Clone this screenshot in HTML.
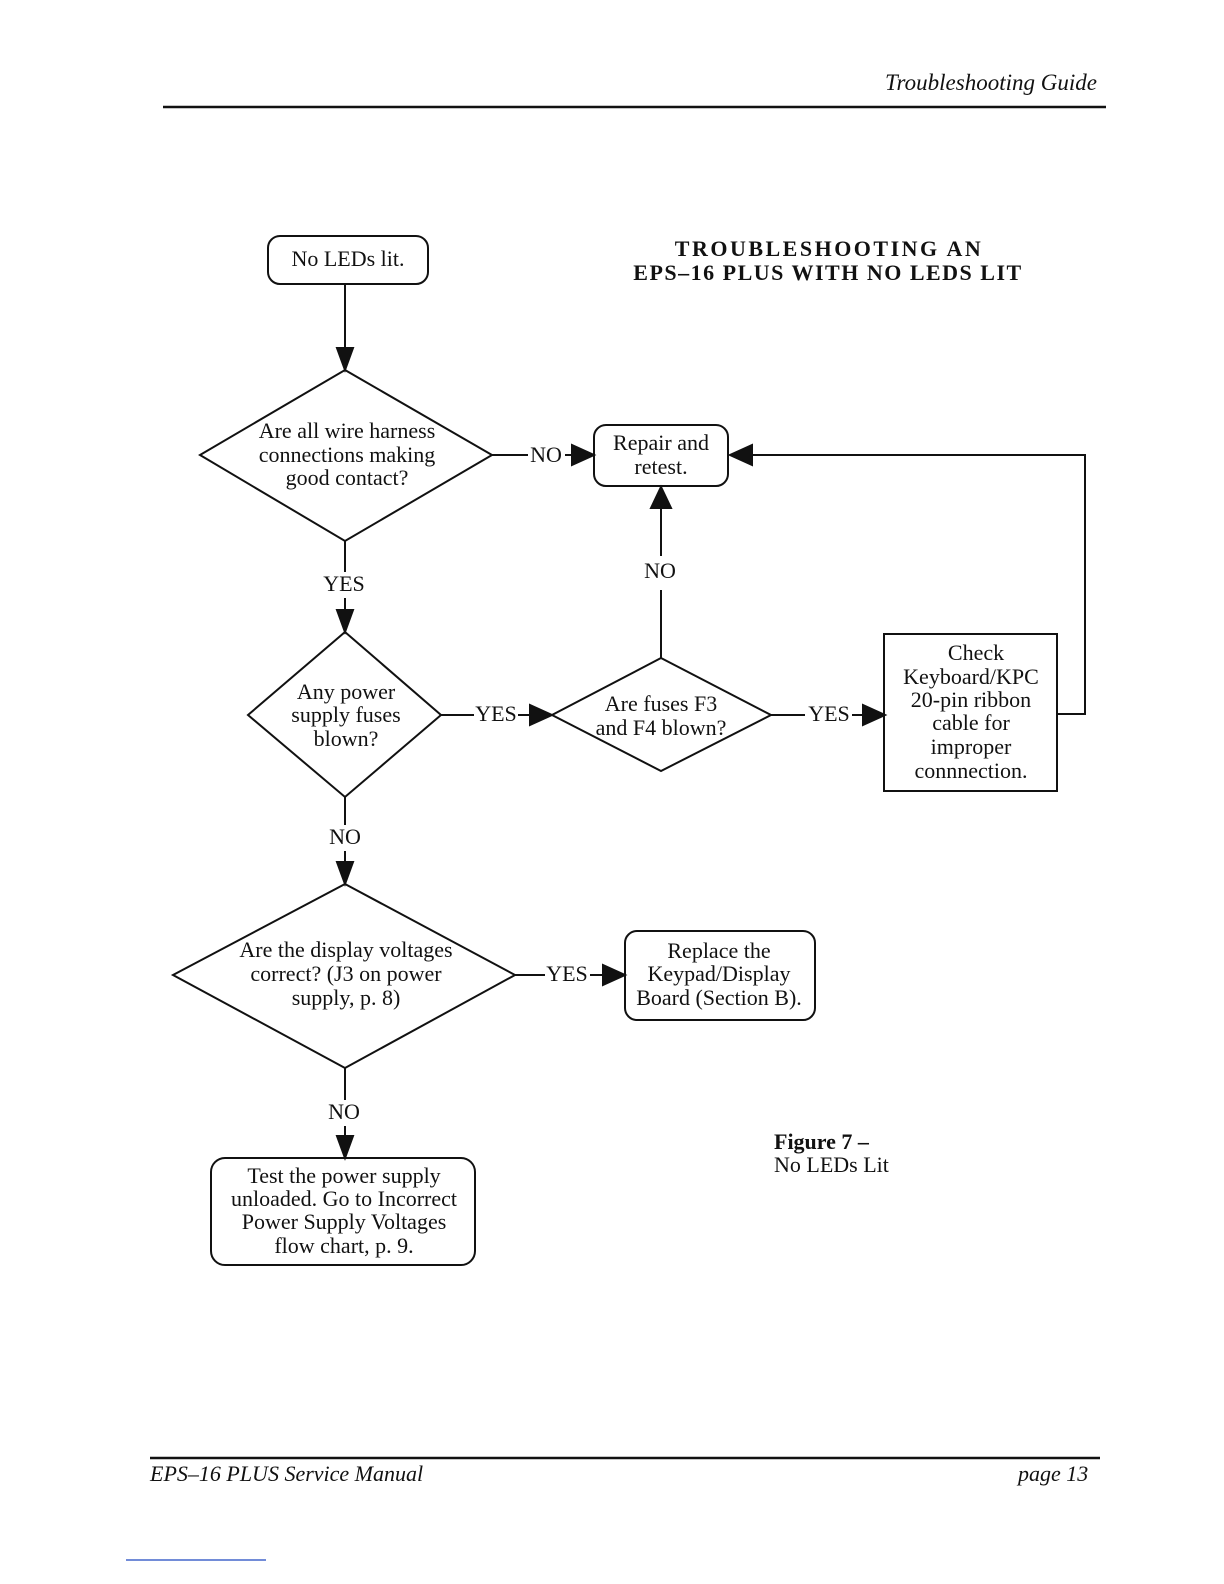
<!DOCTYPE html>
<html><head><meta charset="utf-8"><style>
html,body{margin:0;padding:0;background:#fff;width:1224px;height:1584px;overflow:hidden}
svg{display:block;position:absolute;left:0;top:0}
text{font-family:"Liberation Serif",serif;fill:#111}
</style></head><body>
<svg width="1224" height="1584" viewBox="0 0 1224 1584" xmlns="http://www.w3.org/2000/svg">
<g stroke="#111" stroke-width="2" fill="none">
<line x1="163" y1="107" x2="1106" y2="107" stroke-width="2.5"/>
<line x1="150" y1="1458" x2="1100" y2="1458" stroke-width="2.5"/>
<rect x="268" y="236" width="160" height="48" rx="12"/>
<path d="M345 284 V350"/><path d="M337 348 L345 370 L353 348 Z" fill="#111"/>
<polygon points="345,370 492,455 345,541 200,455"/>
<path d="M492 455 H528"/>
<path d="M565 455 H578"/><path d="M572 445 L594 455 L572 465 Z" fill="#111"/>
<rect x="594" y="425" width="134" height="61" rx="12"/>
<path d="M1057 714 H1085 V455 H750"/><path d="M752 445 L730 455 L752 465 Z" fill="#111"/>
<path d="M345 541 V572"/><path d="M345 598 V612"/><path d="M337 610 L345 632 L353 610 Z" fill="#111"/>
<polygon points="345,632 441,715 345,797 248,715"/>
<path d="M441 715 H474"/><path d="M518 715 H530"/><path d="M530 705 L552 715 L530 725 Z" fill="#111"/>
<polygon points="661,658 771,715 661,771 552,715"/>
<path d="M661 658 V590"/><path d="M661 556 V508"/><path d="M651 508 L661 487 L671 508 Z" fill="#111"/>
<path d="M771 715 H805"/><path d="M852 715 H864"/><path d="M863 705 L885 715 L863 725 Z" fill="#111"/>
<rect x="884" y="634" width="173" height="157"/>
<path d="M345 797 V825"/><path d="M345 851 V864"/><path d="M337 862 L345 884 L353 862 Z" fill="#111"/>
<polygon points="345,884 515,975 345,1068 173,975"/>
<path d="M515 975 H545"/><path d="M590 975 H603"/><path d="M603 965 L625 975 L603 985 Z" fill="#111"/>
<rect x="625" y="931" width="190" height="89" rx="12"/>
<path d="M345 1068 V1100"/><path d="M345 1126 V1138"/><path d="M337 1136 L345 1158 L353 1136 Z" fill="#111"/>
<rect x="211" y="1158" width="264" height="107" rx="14"/>
</g>
<line x1="126" y1="1560" x2="266" y2="1560" stroke="#4466cc" stroke-width="1.5"/>
<g font-size="22" text-anchor="middle">
<text x="991" y="90" font-style="italic" font-size="23">Troubleshooting Guide</text>
<text x="348" y="266">No LEDs lit.</text>
<text x="347" y="438">Are all wire harness</text>
<text x="347" y="462">connections making</text>
<text x="347" y="485">good contact?</text>
<text x="546" y="462">NO</text>
<text x="661" y="450">Repair and</text>
<text x="661" y="474">retest.</text>
<text x="344" y="591">YES</text>
<text x="660" y="578">NO</text>
<text x="346" y="699">Any power</text>
<text x="346" y="722">supply fuses</text>
<text x="346" y="746">blown?</text>
<text x="496" y="721">YES</text>
<text x="661" y="711">Are fuses F3</text>
<text x="661" y="735">and F4 blown?</text>
<text x="829" y="721">YES</text>
<text x="976" y="660">Check</text>
<text x="971" y="684">Keyboard/KPC</text>
<text x="971" y="707">20-pin ribbon</text>
<text x="971" y="730">cable for</text>
<text x="971" y="754">improper</text>
<text x="971" y="778">connnection.</text>
<text x="345" y="844">NO</text>
<text x="346" y="957">Are the display voltages</text>
<text x="346" y="981">correct? (J3 on power</text>
<text x="346" y="1005">supply, p. 8)</text>
<text x="567" y="981">YES</text>
<text x="719" y="958">Replace the</text>
<text x="719" y="981">Keypad/Display</text>
<text x="719" y="1005">Board (Section B).</text>
<text x="344" y="1119">NO</text>
<text x="344" y="1183">Test the power supply</text>
<text x="344" y="1206">unloaded.  Go to Incorrect</text>
<text x="344" y="1229">Power Supply Voltages</text>
<text x="344" y="1253">flow chart, p. 9.</text>
<text x="829" y="256" font-weight="bold" font-size="22" letter-spacing="2.5">TROUBLESHOOTING  AN</text>
<text x="828" y="280" font-weight="bold" font-size="22" letter-spacing="1.5">EPS–16 PLUS WITH NO LEDS LIT</text>
</g>
<text x="774" y="1149" font-size="22" font-weight="bold">Figure 7 –</text>
<text x="774" y="1172" font-size="22">No LEDs Lit</text>
<text x="150" y="1481" font-size="22" font-style="italic">EPS–16 PLUS Service Manual</text>
<text x="1018" y="1481" font-size="22" font-style="italic">page 13</text>
</svg>
</body></html>
